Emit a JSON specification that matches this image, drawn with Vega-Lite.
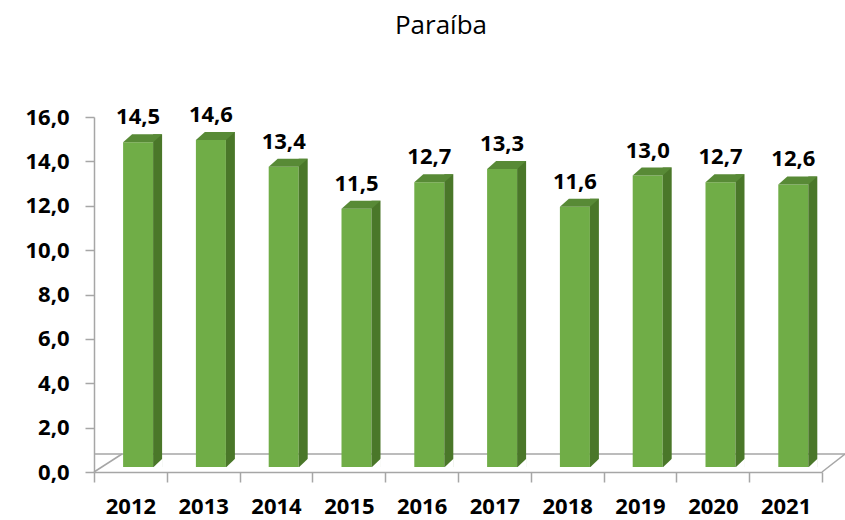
{
  "$schema": "https://vega.github.io/schema/vega-lite/v6.json",
  "autosize": {"type": "none"},
  "padding": {"left": 94, "top": 117, "right": 23, "bottom": 48},
  "width": 728,
  "height": 355,
  "title": {
    "text": "Paraíba",
    "font": "Open Sans",
    "fontSize": 26,
    "fontWeight": "normal",
    "color": "#000000",
    "anchor": "middle",
    "frame": "group",
    "baseline": "alphabetic",
    "offset": 44,
    "dx": -17
  },
  "data": {
    "values": [
      {"year": "2012", "value": 14.5},
      {"year": "2013", "value": 14.6},
      {"year": "2014", "value": 13.4},
      {"year": "2015", "value": 11.5},
      {"year": "2016", "value": 12.7},
      {"year": "2017", "value": 13.3},
      {"year": "2018", "value": 11.6},
      {"year": "2019", "value": 13.0},
      {"year": "2020", "value": 12.7},
      {"year": "2021", "value": 12.6}
    ]
  },
  "encoding": {
    "x": {
      "field": "year",
      "type": "ordinal",
      "scale": {"paddingInner": 0, "paddingOuter": 0},
      "axis": {
        "title": null,
        "labelAngle": 0,
        "tickSize": 10,
        "tickBand": "extent",
        "domainColor": "#A6A6A6",
        "tickColor": "#A6A6A6",
        "domainWidth": 1.5,
        "tickWidth": 1.5,
        "labelFont": "Open Sans",
        "labelFontWeight": "bold",
        "labelFontSize": 22,
        "labelColor": "#000000",
        "labelPadding": 14
      }
    }
  },
  "layer": [
    {
      "data": {"values": [{"side": "back"}]},
      "mark": {"type": "rule", "color": "#A6A6A6", "strokeWidth": 1.5, "yOffset": -18, "xOffset": 28, "x2Offset": 23},
      "encoding": {
        "x": null,
        "y": {"datum": 0, "type": "quantitative"}
      }
    },
    {
      "data": {"values": [{"side": "left"}]},
      "mark": {"type": "point", "shape": "M0,0L1,-0.643", "size": 3136, "filled": false, "stroke": "#A6A6A6", "strokeWidth": 1.5, "opacity": 1, "xOffset": -36.4},
      "encoding": {
        "x": {"datum": "2012", "type": "ordinal"},
        "y": {"datum": 0, "type": "quantitative"}
      }
    },
    {
      "data": {"values": [{"side": "right"}]},
      "mark": {"type": "point", "shape": "M0,0L1,-0.783", "size": 2116, "filled": false, "stroke": "#A6A6A6", "strokeWidth": 1.5, "opacity": 1, "xOffset": 36.4},
      "encoding": {
        "x": {"datum": "2021", "type": "ordinal"},
        "y": {"datum": 0, "type": "quantitative"}
      }
    },
    {
      "mark": {"type": "bar", "width": 30, "xOffset": 7.7, "yOffset": -8, "y2Offset": -5, "color": "#70AD47"},
      "encoding": {
        "y": {
          "field": "value",
          "type": "quantitative",
          "scale": {"domain": [0, 16], "nice": false},
          "axis": {
            "title": null,
            "values": [0, 2, 4, 6, 8, 10, 12, 14, 16],
            "format": ".1f",
            "grid": false,
            "tickSize": 9,
            "domainColor": "#A6A6A6",
            "tickColor": "#A6A6A6",
            "domainWidth": 1.5,
            "tickWidth": 1.5,
            "labelFont": "Open Sans",
            "labelFontWeight": "bold",
            "labelFontSize": 22,
            "labelColor": "#000000",
            "labelPadding": 16
          }
        },
        "y2": {"datum": 0}
      }
    },
    {
      "mark": {"type": "bar", "width": 9, "xOffset": 27.2, "yOffset": -16, "y2Offset": -5, "color": "#4A7729"},
      "encoding": {
        "y": {"field": "value", "type": "quantitative"},
        "y2": {"datum": 0}
      }
    },
    {
      "mark": {"type": "point", "shape": "M-0.625,0L0.625,0L1,-0.3333L-0.25,-0.3333Z", "size": 2304, "filled": true, "color": "#588A36", "opacity": 1, "strokeWidth": 0, "xOffset": 7.7, "yOffset": -8},
      "encoding": {
        "y": {"field": "value", "type": "quantitative"}
      }
    },
    {
      "mark": {"type": "point", "shape": "M0,0.05L1.05,-0.94L1.05,0.05Z", "size": 324, "filled": true, "color": "#FFFFFF", "opacity": 1, "strokeWidth": 0, "xOffset": 22.7, "yOffset": -5},
      "encoding": {
        "y": {"datum": 0, "type": "quantitative"}
      }
    },
    {
      "mark": {"type": "text", "font": "Open Sans", "fontWeight": "bold", "fontSize": 22, "color": "#000000", "baseline": "alphabetic", "dx": 7.7, "dy": -26},
      "encoding": {
        "y": {"field": "value", "type": "quantitative"},
        "text": {"field": "value", "type": "quantitative", "format": ".1f"}
      }
    }
  ],
  "config": {
    "view": {"stroke": null},
    "locale": {"number": {"decimal": ",", "thousands": ".", "grouping": [3], "currency": ["R$", ""]}}
  }
}
